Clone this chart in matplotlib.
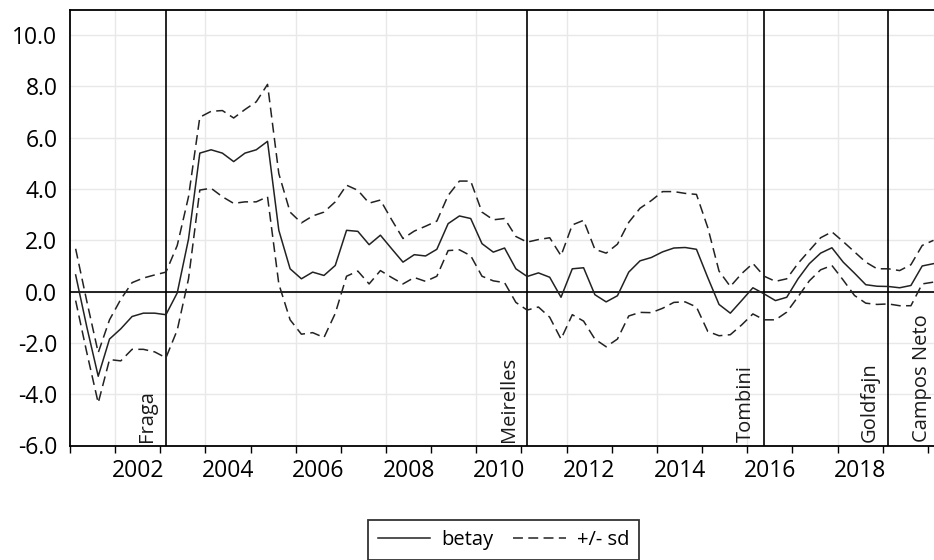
import matplotlib
matplotlib.use("Agg")
import matplotlib.pyplot as plt
import numpy as np

# ---------------- data (quarterly, 2001Q1 .. 2020Q1) ----------------
start_year = 2001
betay = [0.65, -1.4, -3.3, -1.85, -1.45, -0.97, -0.84, -0.84, -0.9, -0.05,
         2.05, 5.4, 5.53, 5.4, 5.07, 5.4, 5.53, 5.86, 2.39, 0.89,
         0.5, 0.76, 0.63, 1.02, 2.39, 2.35, 1.83, 2.2, 1.67, 1.15,
         1.44, 1.39, 1.65, 2.65, 2.95, 2.85, 1.87, 1.54, 1.7, 0.89,
         0.59, 0.73, 0.56, -0.22, 0.89, 0.93, -0.12, -0.4, -0.16, 0.76,
         1.2, 1.33, 1.55, 1.7, 1.72, 1.65, 0.55, -0.5, -0.84, -0.35,
         0.15, -0.09, -0.35, -0.22, 0.5, 1.09, 1.5, 1.71, 1.15, 0.72,
         0.27, 0.21, 0.2, 0.15, 0.24, 1.0, 1.09]
upper = [1.67, -0.4, -2.38, -1.1, -0.3, 0.35, 0.53, 0.65, 0.76, 1.8,
         3.7, 6.8, 7.03, 7.06, 6.77, 7.1, 7.4, 8.08, 4.6, 3.1,
         2.68, 2.95, 3.1, 3.5, 4.15, 3.95, 3.45, 3.57, 2.8, 2.07,
         2.36, 2.55, 2.75, 3.75, 4.31, 4.31, 3.1, 2.8, 2.85, 2.15,
         1.93, 2.03, 2.1, 1.4, 2.6, 2.78, 1.65, 1.5, 1.85, 2.7,
         3.25, 3.55, 3.9, 3.9, 3.83, 3.79, 2.5, 0.8, 0.2, 0.7,
         1.1, 0.6, 0.4, 0.5, 1.1, 1.6, 2.1, 2.33, 1.95, 1.55,
         1.15, 0.89, 0.89, 0.82, 1.05, 1.8, 2.0]
lower = [-0.35, -2.4, -4.34, -2.65, -2.7, -2.25, -2.25, -2.35, -2.58, -1.5,
         0.5, 3.96, 4.03, 3.7, 3.44, 3.5, 3.5, 3.7, 0.3, -1.1,
         -1.66, -1.6, -1.79, -0.85, 0.6, 0.8, 0.3, 0.82, 0.55, 0.3,
         0.55, 0.4, 0.6, 1.6, 1.63, 1.4, 0.6, 0.42, 0.35, -0.42,
         -0.72, -0.6, -1.0, -1.85, -0.9, -1.15, -1.85, -2.15, -1.85, -0.95,
         -0.81, -0.82, -0.65, -0.42, -0.4, -0.6, -1.55, -1.72, -1.68, -1.3,
         -0.87, -1.1, -1.1, -0.8, -0.2, 0.42, 0.85, 1.02, 0.45, -0.15,
         -0.45, -0.5, -0.48, -0.55, -0.55, 0.3, 0.37]

# central bank governors: name and quarter index (from 2001Q1) where term ends
governors = ["Fraga", "Meirelles", "Tombini", "Goldfajn", "Campos Neto"]
term_end_q = [8, 40, 61, 72, 77]   # 2003Q1, 2011Q1, 2016Q2, 2019Q1, (beyond sample)

year_labels = list(range(2002, 2019, 2))
y_ticks = [-6, -4, -2, 0, 2, 4, 6, 8, 10]

# ---------------- figure ----------------
W, H = 934, 560
fig = plt.figure(figsize=(W / 100, H / 100), dpi=100)
plt.rcParams['font.family'] = ['Open Sans', 'DejaVu Sans']

px_per_year = 45.15
x_left, x_right = 2001.0, 2020.2
ax_left_px, ax_top_px, ax_bot_px = 70.0, 9.5, 445.5
ax_w_px = (x_right - x_left) * px_per_year
ax = fig.add_axes([ax_left_px / W, 1 - ax_bot_px / H, ax_w_px / W,
                   (ax_bot_px - ax_top_px) / H])

def qpos(i):
    return start_year + 0.125 + 0.25 * np.asarray(i)

t = qpos(np.arange(len(betay)))

# grid
for gy in y_ticks:
    ax.axhline(gy, color='#e8e8e8', lw=1.0, zorder=0)
for gx in year_labels:
    ax.axvline(gx, color='#e8e8e8', lw=1.0, zorder=0)

ax.axhline(0, color='black', lw=1.2, zorder=2)

line_col = '#222222'
h1, = ax.plot(t, betay, color=line_col, lw=1.1, zorder=3, label='betay')
h2, = ax.plot(t, upper, color=line_col, lw=1.1, zorder=3, dashes=(6.5, 3.5),
              label='+/- sd')
ax.plot(t, lower, color=line_col, lw=1.1, zorder=3, dashes=(6.5, 3.5))

# governor lines and labels
label_shift = 0.41
label_max_x = 2019.86
for name, q in zip(governors, term_end_q):
    xl = qpos(q)
    if xl < x_right:
        ax.axvline(xl, color='black', lw=1.2, zorder=2)
    ax.annotate(name, xy=(min(xl - label_shift, label_max_x), 0),
                xycoords=('data', 'axes fraction'),
                xytext=(0, 3), textcoords='offset pixels',
                rotation=90, ha='center', va='bottom', fontsize=14.5,
                color='#1a1a1a', zorder=4)

ax.set_xlim(x_left, x_right)
ax.set_ylim(-6, 11)

ax.set_yticks(y_ticks)
ax.set_yticklabels([f"{v:.1f}" for v in y_ticks])
ax.tick_params(axis='y', length=0, pad=9, labelsize=16.5)

ax.set_xticks(np.arange(2001, 2021))
ax.set_xticklabels([])
ax.set_xticks([y + 0.5 for y in year_labels], minor=True)
ax.set_xticklabels([str(y) for y in year_labels], minor=True)
ax.tick_params(axis='x', which='major', direction='out', length=5, width=1.0,
               color='black')
ax.tick_params(axis='x', which='minor', length=0, pad=10, labelsize=16.5)

for s in ['top', 'left', 'bottom']:
    ax.spines[s].set_linewidth(1.3)
    ax.spines[s].set_color('black')
ax.spines['right'].set_visible(False)

leg = fig.legend(handles=[h1, h2], loc='center',
                 bbox_to_anchor=(503.5 / W, 1 - 540 / H), ncol=2,
                 fontsize=14.5, frameon=True, fancybox=False,
                 edgecolor='black', handlelength=2.6, handletextpad=0.55,
                 columnspacing=1.0, borderpad=0.5)
leg.get_frame().set_linewidth(1.3)

fig.savefig("out.png", dpi=100)
